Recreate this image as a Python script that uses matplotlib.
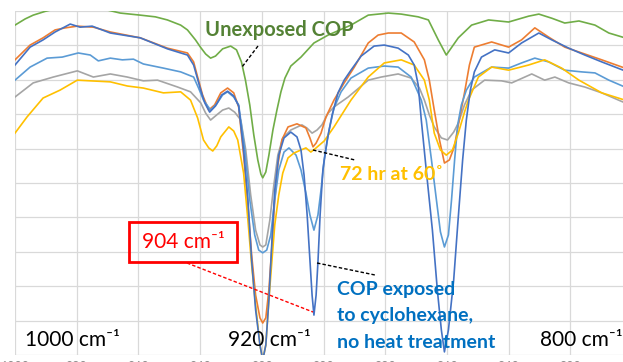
import matplotlib
matplotlib.use("Agg")
import matplotlib.pyplot as plt
from matplotlib.patches import Rectangle
from matplotlib.lines import Line2D

plt.rcParams['font.family'] = ['Lato', 'DejaVu Sans']

# ---------------- data (wavenumber cm-1, relative signal) ----------------
green_x = [1000.0, 996.7, 994.1, 990.2, 987.0, 982.1, 975.6, 970.1, 965.9, 959.4, 954.5, 950.6,
           946.3, 944.1, 941.5, 939.9, 938.2, 936.6, 935.0, 932.7, 930.1, 928.2, 926.6, 925.3,
           923.9, 922.6, 921.3, 920.3, 919.7, 918.7, 917.7, 916.4, 915.1, 913.8, 912.5, 910.6,
           907.3, 903.1, 898.5, 891.1, 885.5, 879.0, 874.8, 869.3, 866.0, 862.8, 860.2, 856.3,
           852.0, 846.5, 840.0, 833.5, 830.2, 826.0, 821.8, 817.2, 812.0, 807.5, 802.3, 799.3]
green_y = [95.9, 97.7, 98.8, 99.9, 100.6, 101.5, 101.5, 100.3, 99.4, 98.8, 98.3, 97.4,
           95.9, 94.5, 91.6, 89.5, 87.5, 86.3, 86.9, 89.0, 89.8, 88.7, 85.2, 79.9,
           72.7, 64.0, 56.7, 52.6, 51.5, 53.2, 58.1, 65.4, 71.2, 76.5, 80.5, 84.0,
           86.6, 90.7, 93.0, 95.9, 98.8, 99.4, 99.1, 98.3, 97.4, 91.6, 87.2, 92.2,
           95.9, 97.4, 96.8, 98.5, 99.1, 97.9, 96.5, 97.1, 95.9, 93.6, 92.2, 91.6]

orange_x = [1000.0, 995.1, 990.9, 987.0, 983.7, 979.8, 974.6, 969.1, 959.4, 950.6, 944.1, 942.1,
            940.8, 939.2, 937.2, 935.3, 933.3, 931.1, 929.1, 927.5, 925.9, 924.5, 923.3, 922.0,
            920.6, 919.7, 918.7, 917.7, 916.7, 915.8, 914.8, 913.5, 911.5, 908.6, 905.7, 904.4,
            903.4, 902.4, 900.8, 899.2, 896.6, 893.3, 890.0, 885.5, 882.3, 879.0, 874.8, 870.6,
            867.3, 865.7, 864.1, 862.4, 860.8, 859.2, 857.6, 856.0, 854.3, 852.7, 851.1, 845.5,
            840.0, 835.8, 831.5, 827.0, 821.8, 816.3, 809.8, 802.3, 799.3]
orange_y = [85.8, 90.1, 92.2, 94.5, 95.1, 95.6, 95.3, 93.9, 92.2, 89.2, 87.8, 85.2,
            80.8, 75.6, 71.2, 72.7, 76.2, 77.6, 76.2, 72.1, 58.1, 43.6, 29.1, 17.4,
            10.8, 9.3, 10.8, 18.9, 32.0, 45.1, 55.2, 62.5, 66.3, 67.2, 66.0, 63.1,
            60.5, 61.6, 64.5, 69.2, 74.1, 79.1, 83.7, 90.7, 93.0, 93.6, 93.6, 91.0,
            85.8, 79.9, 71.2, 62.5, 55.8, 56.7, 60.5, 68.3, 76.2, 84.3, 89.5, 91.0,
            89.5, 91.6, 95.1, 92.4, 89.5, 87.8, 85.8, 83.4, 82.6]

blue_x = [1000.0, 995.1, 990.9, 987.0, 982.1, 978.9, 975.0, 969.1, 959.4, 950.6, 944.1, 942.1,
          939.8, 938.5, 936.9, 935.0, 933.0, 931.1, 929.1, 927.5, 925.9, 924.5, 923.3, 922.0,
          920.6, 919.7, 918.7, 917.7, 916.7, 915.8, 914.5, 912.8, 910.6, 908.6, 907.3, 906.3,
          905.3, 904.4, 903.7, 903.1, 902.4, 901.8, 901.1, 900.2, 898.8, 897.2, 895.3, 893.3,
          891.1, 887.8, 883.6, 880.3, 875.8, 872.5, 870.6, 869.3, 868.3, 866.7, 864.7, 863.1,
          861.8, 860.8, 859.5, 857.8, 856.5, 854.9, 853.7, 852.4, 851.1, 848.8, 844.5, 840.0,
          835.8, 830.2, 826.0, 820.5, 815.3, 809.8, 802.3, 799.3]
blue_y = [84.3, 89.5, 91.6, 93.9, 96.2, 95.3, 95.6, 93.6, 92.2, 89.0, 87.2, 84.3,
          77.0, 73.3, 70.6, 72.4, 75.6, 76.7, 75.3, 72.4, 59.6, 45.1, 27.6, 13.1,
          2.9, -1.5, 2.9, 16.0, 33.4, 48.0, 58.1, 63.1, 64.8, 63.4, 59.6, 52.3,
          40.7, 27.6, 17.4, 11.6, 17.4, 27.0, 40.7, 53.8, 62.5, 69.8, 76.2, 79.9,
          82.8, 86.9, 89.8, 90.1, 89.2, 87.2, 84.3, 78.5, 68.3, 53.8, 36.3, 18.9,
          7.3, 0.9, 7.3, 21.8, 37.8, 56.7, 68.3, 77.0, 82.3, 86.6, 88.7, 87.8,
          90.7, 93.6, 91.6, 89.2, 87.2, 85.2, 82.6, 81.7]

lblue_x = [1000.0, 995.1, 989.6, 984.7, 979.5, 975.6, 973.0, 969.1, 965.2, 961.6, 958.4, 951.9,
           946.3, 942.1, 940.5, 938.9, 936.6, 934.6, 932.7, 931.1, 929.1, 927.5, 925.5, 923.9,
           922.3, 921.0, 919.7, 918.4, 917.1, 915.8, 914.5, 912.8, 911.2, 908.9, 907.3, 905.7,
           904.4, 903.1, 901.8, 900.8, 899.8, 898.2, 896.6, 894.3, 891.1, 885.5, 880.3, 875.8,
           871.6, 870.0, 868.3, 866.7, 865.0, 863.4, 862.1, 860.8, 859.5, 858.5, 857.5, 856.5,
           855.3, 853.7, 851.1, 845.5, 840.0, 835.8, 831.5, 827.0, 821.8, 816.3, 812.0, 807.5,
           802.3, 799.3]
lblue_y = [79.9, 83.7, 86.3, 86.6, 87.8, 87.2, 85.5, 86.3, 85.8, 86.0, 84.6, 83.4,
           82.3, 80.8, 77.6, 74.1, 71.2, 73.0, 75.6, 76.5, 75.0, 72.7, 59.6, 45.1,
           34.9, 30.5, 29.7, 30.5, 34.9, 45.1, 53.8, 59.0, 60.2, 58.1, 53.8, 47.1,
           40.7, 36.3, 40.7, 48.0, 56.7, 65.4, 71.8, 76.5, 80.5, 83.4, 84.0, 83.7,
           80.8, 77.6, 74.1, 68.3, 56.7, 45.1, 35.8, 31.4, 34.9, 45.1, 56.7, 66.9,
           72.7, 77.0, 80.8, 83.7, 83.4, 84.9, 86.3, 85.2, 82.8, 82.3, 82.0, 79.9,
           77.9, 77.0]

grey_x = [1000.0, 994.1, 987.6, 979.8, 974.6, 969.1, 963.6, 958.4, 953.8, 947.3, 943.1, 939.8,
          938.2, 936.6, 934.6, 932.7, 930.7, 928.8, 926.8, 925.2, 923.6, 922.0, 920.6, 919.7,
          918.7, 917.4, 916.1, 914.8, 913.2, 910.6, 907.0, 905.4, 903.7, 902.1, 900.5, 898.5,
          896.6, 892.0, 885.5, 881.3, 875.8, 871.6, 868.9, 867.3, 865.7, 864.1, 861.8, 859.8,
          857.8, 856.3, 854.3, 852.0, 847.8, 842.3, 839.0, 832.5, 828.3, 825.0, 820.5, 815.3,
          809.8, 802.3, 799.3]
grey_y = [75.0, 79.1, 80.8, 82.6, 80.8, 81.7, 80.8, 79.7, 79.9, 77.9, 76.5, 73.3,
          70.3, 68.3, 69.8, 71.2, 71.8, 70.6, 68.3, 59.6, 46.5, 36.3, 32.0, 31.4,
          32.0, 39.2, 49.4, 58.1, 63.1, 65.4, 66.9, 66.0, 64.5, 65.4, 66.9, 70.3,
          72.1, 75.0, 79.9, 80.8, 81.7, 80.5, 77.6, 74.1, 69.8, 66.3, 63.1, 62.5,
          64.8, 67.4, 72.7, 77.0, 79.9, 79.7, 79.1, 81.7, 79.9, 80.8, 79.1, 77.9,
          76.2, 73.3, 72.4]

yellow_x = [1000.0, 996.1, 990.9, 985.4, 979.8, 975.6, 969.1, 963.6, 958.4, 951.9, 946.3, 943.1,
            940.8, 938.9, 937.2, 935.9, 934.6, 933.3, 930.7, 929.1, 927.8, 925.9, 924.5, 923.3,
            922.0, 920.6, 919.7, 918.7, 917.7, 916.7, 915.8, 914.5, 913.2, 911.5, 909.6, 907.3,
            905.7, 904.1, 902.4, 899.8, 896.6, 891.1, 885.5, 880.3, 874.8, 870.6, 867.3, 865.7,
            864.1, 862.1, 860.2, 858.2, 856.3, 854.3, 853.0, 849.8, 845.5, 840.0, 833.5, 828.3,
            822.8, 817.2, 809.8, 802.3, 799.3]
yellow_y = [64.5, 69.2, 74.7, 77.0, 79.9, 79.7, 79.4, 78.2, 77.6, 76.2, 76.5, 74.1,
            68.9, 62.5, 60.2, 59.3, 60.8, 63.4, 66.3, 65.1, 62.5, 52.9, 39.2, 26.2,
            14.5, 2.9, -1.5, 2.9, 16.0, 27.6, 37.8, 46.5, 52.9, 57.3, 58.7, 59.6,
            60.2, 59.0, 60.2, 62.2, 66.3, 74.1, 80.8, 84.9, 85.8, 84.3, 79.9, 74.1,
            64.5, 59.6, 58.1, 59.6, 64.5, 70.6, 74.1, 80.8, 83.7, 82.8, 84.3, 85.8,
            83.4, 79.9, 76.2, 74.1, 73.5]

x_ticks = [1000, 980, 960, 940, 920, 900, 880, 860, 840, 820]

# ---------------- figure ----------------
W, H = 623, 362
fig = plt.figure(figsize=(W / 100, H / 100), dpi=100)
ax = fig.add_axes([15 / W, (H - 355) / H, (632 - 15) / W, (355 - 11) / H])
ax.set_xlim(1000, 800)
ax.set_ylim(0, 100)

ax.set_yticks(range(0, 101, 10))
ax.set_xticks(x_ticks)
ax.grid(True, color='#D9D9D9', lw=0.9)
ax.set_axisbelow(True)
for s in ax.spines.values():
    s.set_visible(False)
ax.tick_params(axis='both', length=0)
ax.tick_params(axis='y', labelleft=False)
ax.tick_params(axis='x', labelsize=9, labelcolor='#8C8C8C', pad=4)

lw = 1.2
ax.plot(green_x, green_y, color='#70AD47', lw=lw)
ax.plot(grey_x, grey_y, color='#A5A5A5', lw=lw)
ax.plot(orange_x, orange_y, color='#ED7D31', lw=lw)
ax.plot(lblue_x, lblue_y, color='#5B9BD5', lw=lw)
ax.plot(yellow_x, yellow_y, color='#FFC000', lw=lw)
ax.plot(blue_x, blue_y, color='#4472C4', lw=lw)


def fx(px):
    return px / W


def fy(py):
    return 1 - py / H


def leader(p0, p1, color='black'):
    fig.add_artist(Line2D([fx(p0[0]), fx(p1[0])], [fy(p0[1]), fy(p1[1])],
                          transform=fig.transFigure, color=color, lw=1.0,
                          ls=(0, (2.5, 1.5))))


# axis position labels
lab_fs = 15
fig.text(fx(25), fy(340), '1000 cm\u207b\u00b9', fontsize=lab_fs, color='black',
         ha='left', va='center')
fig.text(fx(228), fy(340), '920 cm\u207b\u00b9', fontsize=lab_fs, color='black',
         ha='left', va='center')
fig.text(fx(540), fy(340), '800 cm\u207b\u00b9', fontsize=lab_fs, color='black',
         ha='left', va='center')

# red 904 annotation
fig.add_artist(Rectangle((fx(129), fy(262)), (237 - 129) / W, (262 - 222) / H,
                         transform=fig.transFigure, fill=False, ec='#FF0000', lw=2))
fig.text(fx(183), fy(242), '904 cm\u207b\u00b9', fontsize=lab_fs, color='#FF0000',
         ha='center', va='center')
leader((187, 263), (313, 312), color='#FF0000')

# series annotations
fig.text(fx(205), fy(30), 'Unexposed COP', fontsize=14.5, fontweight='bold',
         color='#548235', ha='left', va='center')
leader((258, 46), (242, 67))

fig.text(fx(340), fy(175), '72 hr at 60\u02da', fontsize=14, fontweight='bold',
         color='#FFC000', ha='left', va='center')
leader((313, 150), (355, 160))

for txt, yy in [('COP exposed', 290), ('to cyclohexane,', 316), ('no heat treatment', 342)]:
    fig.text(fx(337), fy(yy), txt, fontsize=14, fontweight='bold',
             color='#0070C0', ha='left', va='center')
leader((317, 263), (375, 275))

fig.savefig('out.png', dpi=100)
